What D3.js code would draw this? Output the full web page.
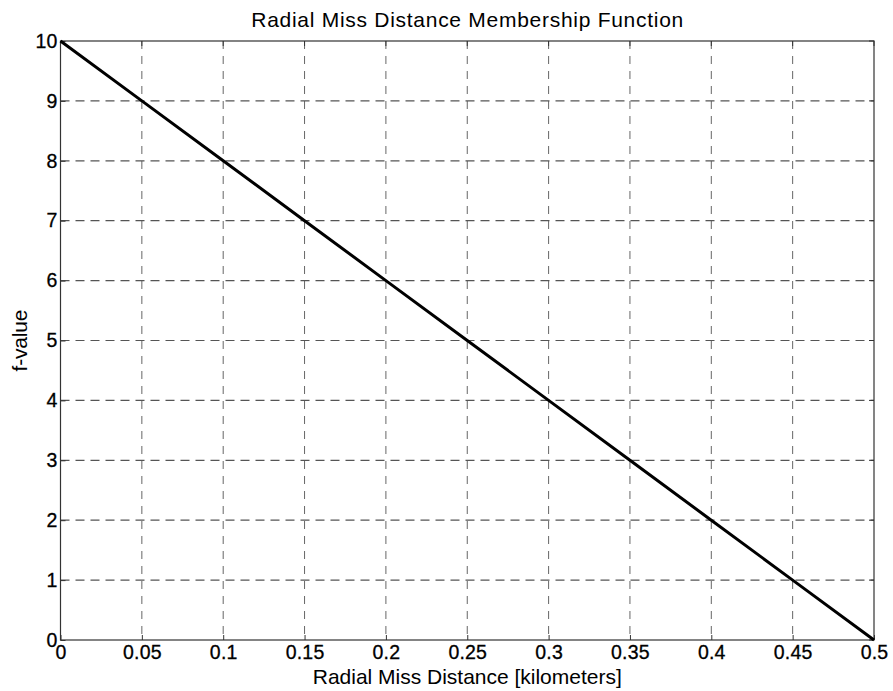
<!DOCTYPE html>
<html><head><meta charset="utf-8">
<script src="https://cdn.jsdelivr.net/npm/d3@7"></script>
<style>body{margin:0;background:#fff;} text{font-family:"Liberation Sans",Arial,Helvetica,sans-serif;}</style>
</head><body>
<svg id="c" width="893" height="691"></svg>
<script>
const distance = [0, 0.05, 0.1, 0.15, 0.2, 0.25, 0.3, 0.35, 0.4, 0.45, 0.5];
const fvalue   = [10, 9, 8, 7, 6, 5, 4, 3, 2, 1, 0];
const xTicks = [0, 0.05, 0.1, 0.15, 0.2, 0.25, 0.3, 0.35, 0.4, 0.45, 0.5];
const yTicks = [0, 1, 2, 3, 4, 5, 6, 7, 8, 9, 10];
const title = "Radial Miss Distance Membership Function";
const xLabel = "Radial Miss Distance [kilometers]";
const yLabel = "f-value";

const svg = d3.select("#c");
const L = 60.5, R = 874, T = 41, B = 640;
const x = d3.scaleLinear().domain([0, 0.5]).range([L, R]);
const y = d3.scaleLinear().domain([0, 10]).range([B, T]);

// grid
const g = svg.append("g");
g.selectAll("line.v").data(xTicks.slice(1, -1)).enter().append("line")
  .attr("x1", d => x(d)).attr("x2", d => x(d)).attr("y1", T).attr("y2", B)
  .attr("stroke", "#666").attr("stroke-width", 1).attr("stroke-dasharray", "8,7");
g.selectAll("line.h").data(yTicks.slice(1, -1)).enter().append("line")
  .attr("y1", d => y(d)).attr("y2", d => y(d)).attr("x1", L).attr("x2", R)
  .attr("stroke", "#555").attr("stroke-width", 1.2).attr("stroke-dasharray", "9,6");

// axes
const xAxis = d3.axisBottom(x).tickValues(xTicks).tickSize(-5).tickPadding(5).tickFormat(d => String(+d.toFixed(2)));
const yAxis = d3.axisLeft(y).tickValues(yTicks).tickSize(-5).tickPadding(3).tickFormat(d => String(d));
const xa = svg.append("g").attr("transform", `translate(0,${B})`).call(xAxis);
const ya = svg.append("g").attr("transform", `translate(${L},0)`).call(yAxis);
[xa, ya].forEach(a => {
  a.select(".domain").remove();
  a.selectAll("line").attr("stroke", "#333");
  a.selectAll("text").attr("font-size", 19.5).attr("letter-spacing", 0.2)
    .attr("fill", "#000").attr("stroke", "#000").attr("stroke-width", 0.3);
});
// top/right ticks
svg.append("g").selectAll("line").data(xTicks).enter().append("line")
  .attr("x1", d => x(d)).attr("x2", d => x(d)).attr("y1", T).attr("y2", T + 5).attr("stroke", "#333");
svg.append("g").selectAll("line").data(yTicks).enter().append("line")
  .attr("y1", d => y(d)).attr("y2", d => y(d)).attr("x1", R).attr("x2", R - 5).attr("stroke", "#333");

// box
svg.append("rect").attr("x", L).attr("y", T).attr("width", R - L).attr("height", B - T)
  .attr("fill", "none").attr("stroke", "#333").attr("stroke-width", 1.2);

// line
const line = d3.line().x((d, i) => x(distance[i])).y(d => y(d));
svg.append("path").datum(fvalue).attr("d", line)
  .attr("fill", "none").attr("stroke", "#000").attr("stroke-width", 3);

// labels
svg.append("text").attr("x", (L + R) / 2).attr("y", 27).attr("text-anchor", "middle")
  .attr("font-size", 21).attr("textLength", 432).attr("lengthAdjust", "spacing").text(title);
svg.append("text").attr("x", (L + R) / 2).attr("y", 684).attr("text-anchor", "middle")
  .attr("font-size", 21).attr("textLength", 309).attr("lengthAdjust", "spacing").text(xLabel);
svg.append("text").attr("transform", `translate(27,${(T + B) / 2}) rotate(-90)`).attr("text-anchor", "middle")
  .attr("font-size", 21).attr("textLength", 62).attr("lengthAdjust", "spacing").text(yLabel);
</script>
</body></html>
